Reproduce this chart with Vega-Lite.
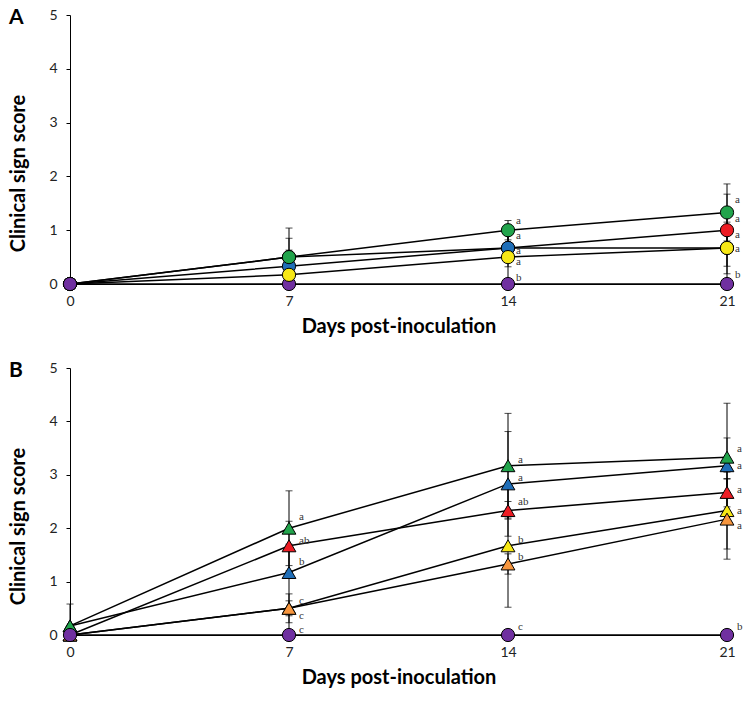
{
  "$schema": "https://vega.github.io/schema/vega-lite/v6.json",
  "padding": {"left": 8, "top": 7, "right": 4, "bottom": 4},
  "spacing": 24,
  "config": {
    "view": {"stroke": null},
    "font": "Lato",
    "axis": {"grid": false, "domainColor": "#000", "tickColor": "#000", "labelColor": "#222", "titleColor": "#000", "labelFont": "Lato", "labelFontSize": 14, "titleFont": "Lato", "titleFontSize": 20, "titleFontWeight": "bold"},
    "axisX": {"ticks": false, "labelPadding": 10, "titlePadding": 8, "labelFlush": false},
    "axisY": {"tickSize": 4, "labelPadding": 9, "titlePadding": 20, "titleY": 158, "tickCount": 5},
    "title": {"anchor": "start", "frame": "bounds", "fontSize": 21, "font": "Lato", "fontWeight": "bold", "baseline": "top", "offset": -20, "color": "#000"}
  },
  "datasets": {
    "ma": [
      {"s": "red", "d": 0, "v": 0}, {"s": "blue", "d": 0, "v": 0}, {"s": "yellow", "d": 0, "v": 0}, {"s": "green", "d": 0, "v": 0}, {"s": "purple", "d": 0, "v": 0},
      {"s": "purple", "d": 7, "v": 0}, {"s": "red", "d": 7, "v": 0.5}, {"s": "blue", "d": 7, "v": 0.33}, {"s": "yellow", "d": 7, "v": 0.17}, {"s": "green", "d": 7, "v": 0.5},
      {"s": "purple", "d": 14, "v": 0}, {"s": "red", "d": 14, "v": 0.67}, {"s": "blue", "d": 14, "v": 0.67}, {"s": "yellow", "d": 14, "v": 0.5}, {"s": "green", "d": 14, "v": 1.0},
      {"s": "purple", "d": 21, "v": 0}, {"s": "red", "d": 21, "v": 1.0}, {"s": "blue", "d": 21, "v": 0.67}, {"s": "yellow", "d": 21, "v": 0.67}, {"s": "green", "d": 21, "v": 1.33}
    ],
    "ea": [
      {"s": "green", "d": 7, "lo": 0, "hi": 1.04}, {"s": "red", "d": 7, "lo": 0.15, "hi": 0.85}, {"s": "blue", "d": 7, "lo": 0.03, "hi": 0.63}, {"s": "yellow", "d": 7, "lo": 0, "hi": 0.34},
      {"s": "green", "d": 14, "lo": 0.82, "hi": 1.18}, {"s": "red", "d": 14, "lo": 0.4, "hi": 0.93}, {"s": "blue", "d": 14, "lo": 0.32, "hi": 1.02}, {"s": "yellow", "d": 14, "lo": 0, "hi": 1.0},
      {"s": "green", "d": 21, "lo": 0.8, "hi": 1.86}, {"s": "red", "d": 21, "lo": 0.33, "hi": 1.67}, {"s": "blue", "d": 21, "lo": 0.19, "hi": 1.15}, {"s": "yellow", "d": 21, "lo": 0, "hi": 1.33}
    ],
    "la": [
      {"d": 14, "ly": 1.17, "t": "a"}, {"d": 14, "ly": 0.89, "t": "a"}, {"d": 14, "ly": 0.61, "t": "a"}, {"d": 14, "ly": 0.4, "t": "a"}, {"d": 14, "ly": 0.12, "t": "b"},
      {"d": 21, "ly": 1.56, "t": "a"}, {"d": 21, "ly": 1.21, "t": "a"}, {"d": 21, "ly": 0.91, "t": "a"}, {"d": 21, "ly": 0.65, "t": "a"}, {"d": 21, "ly": 0.17, "t": "b"}
    ],
    "mb": [
      {"s": "red", "d": 0, "v": 0}, {"s": "blue", "d": 0, "v": 0.17}, {"s": "green", "d": 0, "v": 0.17}, {"s": "yellow", "d": 0, "v": 0}, {"s": "orange", "d": 0, "v": 0}, {"s": "purple", "d": 0, "v": 0},
      {"s": "red", "d": 7, "v": 1.67}, {"s": "blue", "d": 7, "v": 1.17}, {"s": "green", "d": 7, "v": 2.0}, {"s": "yellow", "d": 7, "v": 0.5}, {"s": "orange", "d": 7, "v": 0.5}, {"s": "purple", "d": 7, "v": 0},
      {"s": "red", "d": 14, "v": 2.33}, {"s": "blue", "d": 14, "v": 2.83}, {"s": "green", "d": 14, "v": 3.17}, {"s": "yellow", "d": 14, "v": 1.67}, {"s": "orange", "d": 14, "v": 1.33}, {"s": "purple", "d": 14, "v": 0},
      {"s": "red", "d": 21, "v": 2.67}, {"s": "blue", "d": 21, "v": 3.17}, {"s": "green", "d": 21, "v": 3.33}, {"s": "yellow", "d": 21, "v": 2.33}, {"s": "orange", "d": 21, "v": 2.17}, {"s": "purple", "d": 21, "v": 0}
    ],
    "eb": [
      {"s": "green", "d": 0, "lo": 0, "hi": 0.58},
      {"s": "green", "d": 7, "lo": 1.3, "hi": 2.7}, {"s": "red", "d": 7, "lo": 1.2, "hi": 2.13}, {"s": "blue", "d": 7, "lo": 0, "hi": 1.7}, {"s": "yellow", "d": 7, "lo": 0.23, "hi": 0.77}, {"s": "orange", "d": 7, "lo": 0.36, "hi": 0.64},
      {"s": "green", "d": 14, "lo": 2.19, "hi": 4.15}, {"s": "blue", "d": 14, "lo": 1.85, "hi": 3.81}, {"s": "red", "d": 14, "lo": 2.17, "hi": 2.5}, {"s": "yellow", "d": 14, "lo": 0.52, "hi": 2.82}, {"s": "orange", "d": 14, "lo": 1.14, "hi": 1.52},
      {"s": "green", "d": 21, "lo": 2.33, "hi": 4.34}, {"s": "blue", "d": 21, "lo": 2.65, "hi": 3.69}, {"s": "red", "d": 21, "lo": 2.4, "hi": 2.93}, {"s": "yellow", "d": 21, "lo": 1.61, "hi": 3.05}, {"s": "orange", "d": 21, "lo": 1.42, "hi": 2.92}
    ],
    "lb": [
      {"d": 7, "ly": 2.21, "t": "a"}, {"d": 7, "ly": 1.76, "t": "ab"}, {"d": 7, "ly": 1.37, "t": "b"}, {"d": 7, "ly": 0.64, "t": "c"}, {"d": 7, "ly": 0.36, "t": "c"}, {"d": 7, "ly": 0.09, "t": "c"},
      {"d": 14, "ly": 3.28, "t": "a"}, {"d": 14, "ly": 2.94, "t": "a"}, {"d": 14, "ly": 2.49, "t": "ab"}, {"d": 14, "ly": 1.78, "t": "b"}, {"d": 14, "ly": 1.46, "t": "b"}, {"d": 14, "ly": 0.15, "t": "c"},
      {"d": 21, "ly": 3.48, "t": "a"}, {"d": 21, "ly": 3.16, "t": "a"}, {"d": 21, "ly": 2.72, "t": "a"}, {"d": 21, "ly": 2.32, "t": "a"}, {"d": 21, "ly": 2.04, "t": "a"}, {"d": 21, "ly": 0.15, "t": "b"}
    ]
  },
  "vconcat": [
    {
      "width": 657,
      "height": 269,
      "title": {"text": "A"},
      "encoding": {
        "x": {"field": "d", "type": "quantitative", "scale": {"domain": [0, 21], "nice": false}, "axis": {"values": [0, 7, 14, 21], "title": "Days post-inoculation"}}
      },
      "layer": [
        {"data": {"name": "ma"}, "mark": {"type": "line", "color": "#000", "strokeWidth": 1.5},
         "encoding": {"y": {"field": "v", "type": "quantitative", "scale": {"domain": [0, 5]}, "title": "Clinical sign score"}, "detail": {"field": "s"}}},
        {"data": {"name": "ea"}, "mark": {"type": "rule", "color": "#000", "strokeWidth": 1},
         "encoding": {"y": {"field": "lo", "type": "quantitative", "title": "Clinical sign score"}, "y2": {"field": "hi"}}},
        {"data": {"name": "ea"}, "mark": {"type": "tick", "orient": "horizontal", "color": "#000", "size": 7, "thickness": 1},
         "encoding": {"y": {"field": "lo", "type": "quantitative", "title": "Clinical sign score"}}},
        {"data": {"name": "ea"}, "mark": {"type": "tick", "orient": "horizontal", "color": "#000", "size": 7, "thickness": 1},
         "encoding": {"y": {"field": "hi", "type": "quantitative", "title": "Clinical sign score"}}},
        {"data": {"name": "ma"}, "mark": {"type": "point", "shape": "circle", "filled": true, "opacity": 1, "size": 175, "stroke": "#000", "strokeWidth": 1},
         "encoding": {"y": {"field": "v", "type": "quantitative", "title": "Clinical sign score"},
           "color": {"field": "s", "type": "nominal", "legend": null, "scale": {"domain": ["green", "red", "blue", "yellow", "orange", "purple"], "range": ["#22a44c", "#ed1c24", "#1f6eb8", "#f7e816", "#f7963e", "#7030a0"]}}}},
        {"data": {"name": "la"}, "mark": {"type": "text", "align": "left", "baseline": "middle", "dx": 8, "font": "Liberation Serif", "fontSize": 11, "color": "#333"},
         "encoding": {"y": {"field": "ly", "type": "quantitative", "title": "Clinical sign score"}, "text": {"field": "t"}}}
      ]
    },
    {
      "width": 657,
      "height": 267,
      "title": {"text": "B"},
      "encoding": {
        "x": {"field": "d", "type": "quantitative", "scale": {"domain": [0, 21], "nice": false}, "axis": {"values": [0, 7, 14, 21], "title": "Days post-inoculation"}}
      },
      "layer": [
        {"data": {"name": "mb"}, "mark": {"type": "line", "color": "#000", "strokeWidth": 1.5},
         "encoding": {"y": {"field": "v", "type": "quantitative", "scale": {"domain": [0, 5]}, "title": "Clinical sign score"}, "detail": {"field": "s"}}},
        {"data": {"name": "eb"}, "mark": {"type": "rule", "color": "#000", "strokeWidth": 1},
         "encoding": {"y": {"field": "lo", "type": "quantitative", "title": "Clinical sign score"}, "y2": {"field": "hi"}}},
        {"data": {"name": "eb"}, "mark": {"type": "tick", "orient": "horizontal", "color": "#000", "size": 7, "thickness": 1},
         "encoding": {"y": {"field": "lo", "type": "quantitative", "title": "Clinical sign score"}}},
        {"data": {"name": "eb"}, "mark": {"type": "tick", "orient": "horizontal", "color": "#000", "size": 7, "thickness": 1},
         "encoding": {"y": {"field": "hi", "type": "quantitative", "title": "Clinical sign score"}}},
        {"data": {"name": "mb"}, "transform": [{"filter": "datum.s !== 'purple'"}],
         "mark": {"type": "point", "shape": "triangle-up", "filled": true, "opacity": 1, "size": 190, "stroke": "#000", "strokeWidth": 1},
         "encoding": {"y": {"field": "v", "type": "quantitative", "title": "Clinical sign score"},
           "color": {"field": "s", "type": "nominal", "legend": null, "scale": {"domain": ["green", "red", "blue", "yellow", "orange", "purple"], "range": ["#22a44c", "#ed1c24", "#1f6eb8", "#f7e816", "#f7963e", "#7030a0"]}}}},
        {"data": {"name": "mb"}, "transform": [{"filter": "datum.s === 'purple'"}],
         "mark": {"type": "point", "shape": "circle", "filled": true, "opacity": 1, "size": 175, "stroke": "#000", "strokeWidth": 1},
         "encoding": {"y": {"field": "v", "type": "quantitative", "title": "Clinical sign score"},
           "color": {"field": "s", "type": "nominal", "legend": null, "scale": {"domain": ["green", "red", "blue", "yellow", "orange", "purple"], "range": ["#22a44c", "#ed1c24", "#1f6eb8", "#f7e816", "#f7963e", "#7030a0"]}}}},
        {"data": {"name": "lb"}, "mark": {"type": "text", "align": "left", "baseline": "middle", "dx": 10, "font": "Liberation Serif", "fontSize": 11, "color": "#333"},
         "encoding": {"y": {"field": "ly", "type": "quantitative", "title": "Clinical sign score"}, "text": {"field": "t"}}}
      ]
    }
  ]
}
